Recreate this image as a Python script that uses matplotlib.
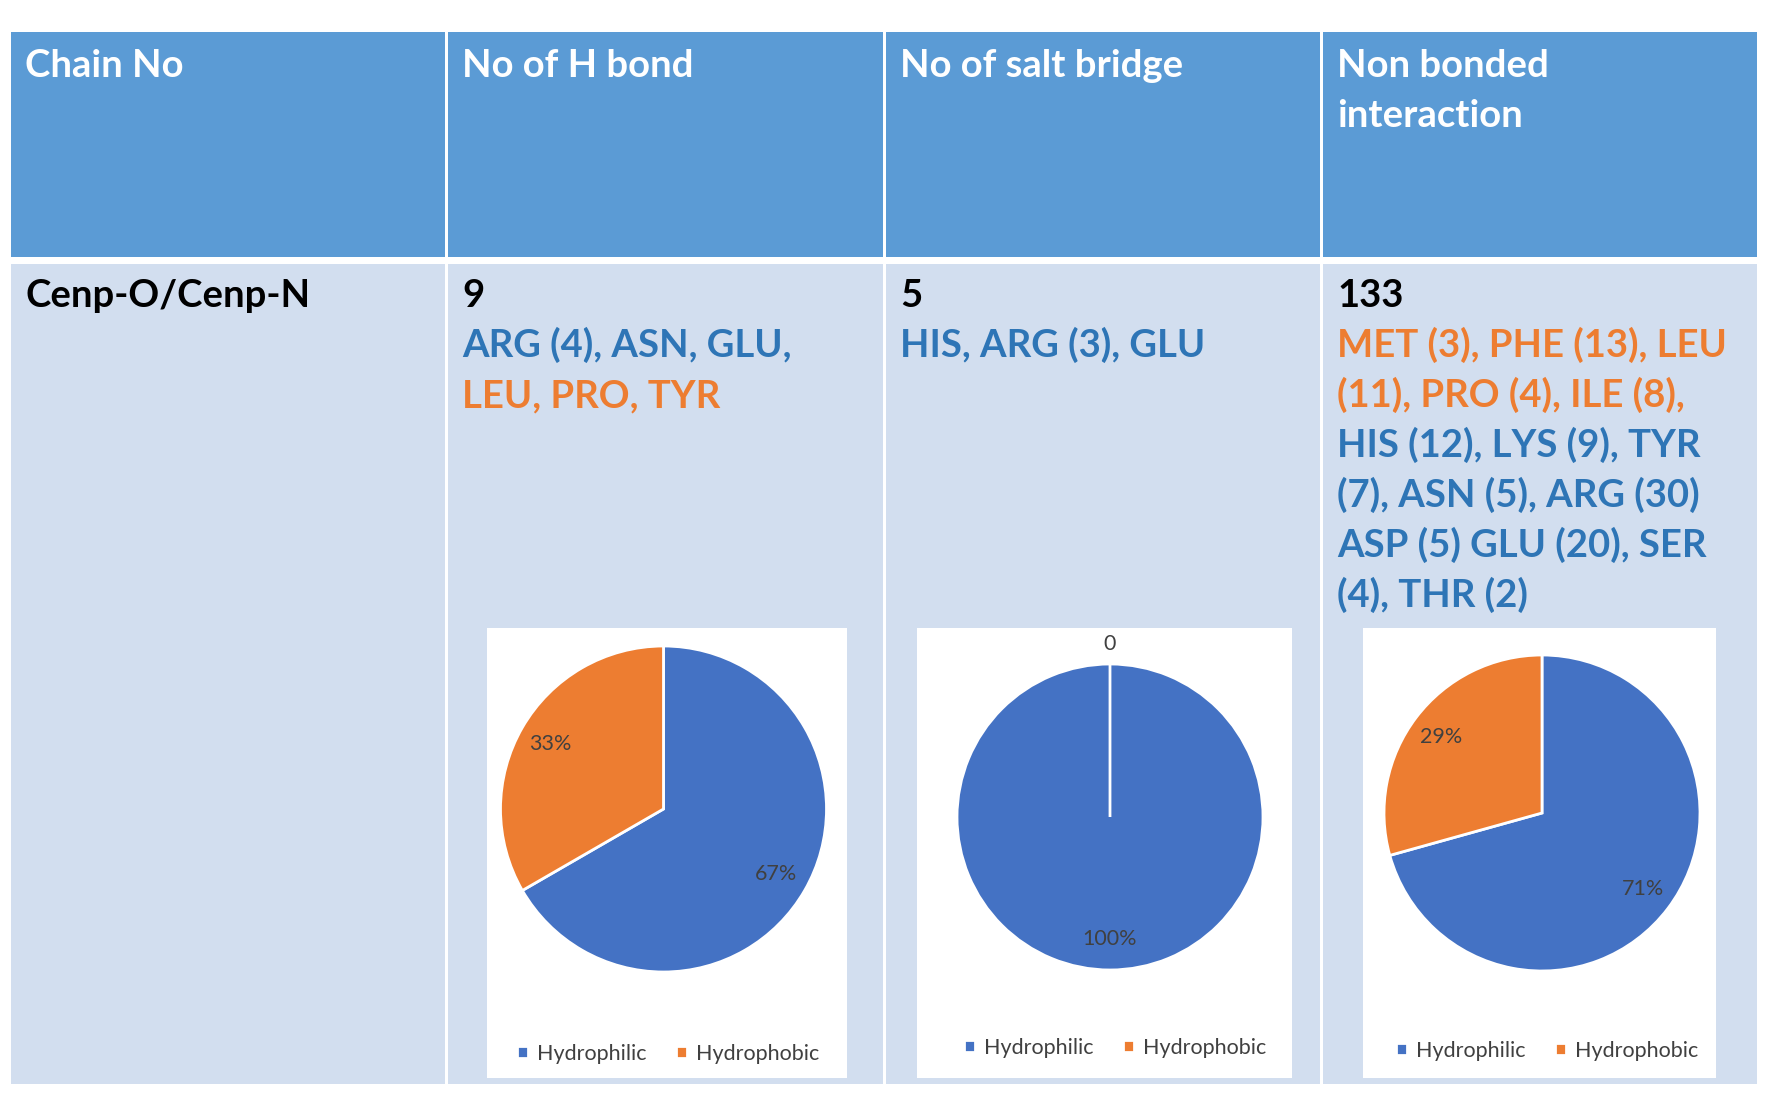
import matplotlib
matplotlib.use("Agg")
import matplotlib.pyplot as plt
from matplotlib.patches import Rectangle

W, H = 1767, 1112

headers = [["Chain No"], ["No of H bond"], ["No of salt bridge"], ["Non bonded", "interaction"]]
chain_name = "Cenp-O/Cenp-N"
totals = ["9", "5", "133"]

# residue lines per column, flag says hydrophobic (orange) or hydrophilic (blue)
hbond_lines = [("ARG (4), ASN, GLU,", False), ("LEU, PRO, TYR", True)]
salt_lines = [("HIS, ARG (3), GLU", False)]
nonbond_lines = [
    ("MET (3), PHE (13), LEU", True),
    ("(11), PRO (4), ILE (8),", True),
    ("HIS (12), LYS (9), TYR", False),
    ("(7), ASN (5), ARG (30)", False),
    ("ASP (5) GLU (20), SER", False),
    ("(4), THR (2)", False),
]

categories = ["Hydrophilic", "Hydrophobic"]
hbond_counts = [6, 3]
salt_counts = [5, 0]
nonbond_counts = [94, 39]

HEAD_BG = "#5B9BD5"
BODY_BG = "#D2DEEF"
BLUE_TXT = "#2E75B6"
ORANGE_TXT = "#ED7D31"
PIE_COLORS = ["#4472C4", "#ED7D31"]
FONT = "Lato"
FS = 27.5
PIE_FS = 15.5

plt.rcParams["font.family"] = [FONT, "DejaVu Sans"]

fig = plt.figure(figsize=(W / 100, H / 100), dpi=100)
ax = fig.add_axes([0, 0, 1, 1])
ax.set_xlim(0, W)
ax.set_ylim(H, 0)
ax.axis("off")

col_x = [9, 446, 884, 1321, 1758]
head_top, head_bot = 32, 257
body_top, body_bot = 264, 1084

for i in range(4):
    x0, x1 = col_x[i], col_x[i + 1]
    ax.add_patch(Rectangle((x0 + 1.5, head_top), x1 - x0 - 3, head_bot - head_top,
                           facecolor=HEAD_BG, edgecolor="none"))
    ax.add_patch(Rectangle((x0 + 1.5, body_top), x1 - x0 - 3, body_bot - body_top,
                           facecolor=BODY_BG, edgecolor="none"))
    for j, line in enumerate(headers[i]):
        ax.text(x0 + 16, 77 + 50 * j, line, fontsize=FS, weight="bold",
                color="white", va="baseline", ha="left")

ax.text(col_x[0] + 16, 307, chain_name, fontsize=FS, weight="bold",
        color="black", va="baseline")

for i, (total, lines) in enumerate(zip(totals, [hbond_lines, salt_lines, nonbond_lines])):
    x0 = col_x[i + 1] + 16
    ax.text(x0, 307, total, fontsize=FS, weight="bold", color="black", va="baseline")
    for j, (line, phobic) in enumerate(lines):
        ax.text(x0, 357 + 50 * j, line, fontsize=FS, weight="bold",
                color=ORANGE_TXT if phobic else BLUE_TXT, va="baseline")

# white chart boxes
boxes = [(487, 628, 847, 1078), (917, 628, 1292, 1078), (1363, 628, 1716, 1078)]
for bx0, by0, bx1, by1 in boxes:
    ax.add_patch(Rectangle((bx0, by0), bx1 - bx0, by1 - by0,
                           facecolor="white", edgecolor="none"))

pies = [
    (hbond_counts, 663.5, 809, 163, 668, 1054),
    (salt_counts, 1110, 817, 153, 1115, 1048),
    (nonbond_counts, 1542, 813, 158, 1547, 1051),
]

for counts, cx, cy, r, lx, ly in pies:
    pax = fig.add_axes([(cx - r) / W, (H - cy - r) / H, 2 * r / W, 2 * r / H])
    wedges, texts, autotexts = pax.pie(
        counts, colors=PIE_COLORS, startangle=90, counterclock=False,
        labels=[str(c) if c == 0 else "" for c in counts], labeldistance=1.13,
        autopct=lambda p: f"{p:.0f}%" if p > 0 else "", pctdistance=0.8,
        wedgeprops=dict(edgecolor="white", linewidth=2),
        textprops=dict(fontsize=PIE_FS, color="#404040"),
    )
    for t in texts:
        t.set_ha("center")
        t.set_va("center")
    pax.set_xlim(-1, 1)
    pax.set_ylim(-1, 1)
    pax.axis("off")
    pax.legend(wedges, categories, loc="center", bbox_to_anchor=(lx / W, 1 - ly / H),
               bbox_transform=fig.transFigure, ncol=2, frameon=False,
               handlelength=0.5, handleheight=0.5, handletextpad=0.4,
               columnspacing=1.4, fontsize=PIE_FS, labelcolor="#404040")

fig.savefig("out.png", dpi=100)
